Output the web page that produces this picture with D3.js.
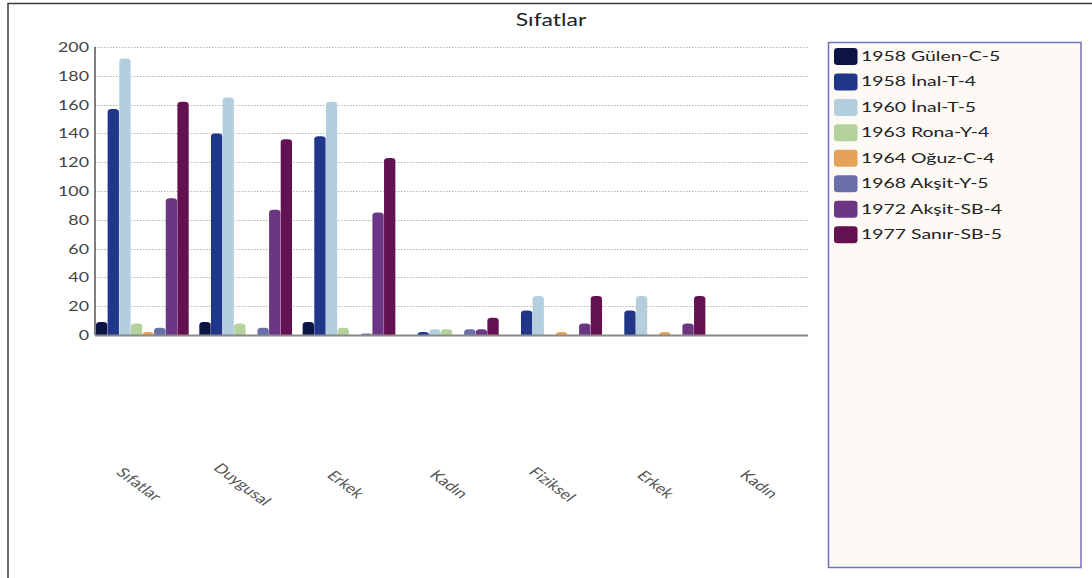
<!DOCTYPE html>
<html>
<head>
<meta charset="utf-8">
<script src="https://cdn.jsdelivr.net/npm/d3@7"></script>
<style>
  html, body { margin: 0; padding: 0; background: #fff; }
  svg { display: block; font-family: Lato, "Open Sans", sans-serif; }
</style>
</head>
<body>
<svg id="chart" width="1092" height="578"></svg>
<script>
// Categories along the x axis
const categories = ["Sıfatlar", "Duygusal", "Erkek", "Kadın", "Fiziksel", "Erkek", "Kadın"];

// Series (one per source text)
const seriesNames = [
  "1958 Gülen-C-5", "1958 İnal-T-4", "1960 İnal-T-5", "1963 Rona-Y-4",
  "1964 Oğuz-C-4", "1968 Akşit-Y-5", "1972 Akşit-SB-4", "1977 Sanır-SB-5"
];
const seriesColors = [
  "#0c1445", "#1f3689", "#b3cfde", "#b4d29b",
  "#e4a25a", "#6a6fa9", "#6d3684", "#631150"
];

// Counts per category, one array per series
const gulenC5   = [9, 9, 9, 0, 0, 0, 0];
const inalT4    = [157, 140, 138, 2, 17, 17, 0];
const inalT5    = [192, 165, 162, 4, 27, 27, 0];
const ronaY4    = [8, 8, 5, 4, 0, 0, 0];
const oguzC4    = [2, 0, 0, 0, 2, 2, 0];
const aksitY5   = [5, 5, 1, 4, 0, 0, 0];
const aksitSB4  = [95, 87, 85, 4, 8, 8, 0];
const sanirSB5  = [162, 136, 123, 12, 27, 27, 0];
const seriesValues = [gulenC5, inalT4, inalT5, ronaY4, oguzC4, aksitY5, aksitSB4, sanirSB5];

// Y axis tick values
const yTicks = [0, 20, 40, 60, 80, 100, 120, 140, 160, 180, 200];

const chartTitle = "Sıfatlar";

// Text in this chart is drawn horizontally widened
const SX = 1.35;

const svg = d3.select("#chart");

const plot = { left: 95, right: 809, top: 47, bottom: 335 };

const x0 = d3.scaleBand()
  .domain(d3.range(categories.length))
  .range([plot.left + 1, plot.right])
  .paddingInner(0.1)
  .paddingOuter(0);

const x1 = d3.scaleBand()
  .domain(d3.range(seriesNames.length))
  .range([0, x0.bandwidth()])
  .padding(0);

const y = d3.scaleLinear().domain([0, 200]).range([plot.bottom, plot.top]);

// Outer frame (top and left edges)
svg.append("path")
  .attr("d", `M8,578 L8,3.5 L1092,3.5`)
  .attr("fill", "none")
  .attr("stroke", "#3a3a3a")
  .attr("stroke-width", 1.5);

// Title
svg.append("text")
  .attr("transform", `translate(551,26) scale(${SX},1)`)
  .attr("text-anchor", "middle")
  .attr("font-size", 17)
  .attr("fill", "#222")
  .text(chartTitle);

// Gridlines
svg.append("g")
  .selectAll("line")
  .data(yTicks.filter(d => d > 0))
  .join("line")
  .attr("x1", plot.left)
  .attr("x2", plot.right)
  .attr("y1", d => Math.round(y(d)) + 0.5)
  .attr("y2", d => Math.round(y(d)) + 0.5)
  .attr("stroke", "#b5b5b5")
  .attr("stroke-width", 1)
  .attr("stroke-dasharray", "1.5,1.5");

// Y tick labels
svg.append("g")
  .selectAll("text")
  .data(yTicks)
  .join("text")
  .attr("transform", d => `translate(89,${y(d)}) scale(${SX},1)`)
  .attr("text-anchor", "end")
  .attr("dominant-baseline", "central")
  .attr("font-size", 13.2)
  .attr("fill", "#444")
  .text(d => d);

// Bars with rounded tops
function barPath(x, w, top, bottom) {
  const h = bottom - top;
  if (h <= 0) return "";
  const rx = Math.min(4, w / 2);
  const ry = Math.min(3, h);
  return `M${x},${bottom} L${x},${top + ry} A${rx},${ry} 0 0 1 ${x + rx},${top}` +
         ` L${x + w - rx},${top} A${rx},${ry} 0 0 1 ${x + w},${top + ry} L${x + w},${bottom} Z`;
}

const groups = svg.append("g")
  .selectAll("g")
  .data(categories.map((c, i) => i))
  .join("g")
  .attr("transform", i => `translate(${x0(i)},0)`);

groups.selectAll("path")
  .data(ci => seriesValues.map((vals, si) => ({ si, v: vals[ci] })))
  .join("path")
  .attr("d", d => barPath(x1(d.si), x1.bandwidth() - 0.3, y(d.v), y(0)))
  .attr("fill", d => seriesColors[d.si]);

// Y axis line
svg.append("line")
  .attr("x1", plot.left).attr("x2", plot.left)
  .attr("y1", plot.top).attr("y2", plot.bottom)
  .attr("stroke", "#555")
  .attr("stroke-width", 1.5);

// X axis line
svg.append("line")
  .attr("x1", plot.left).attr("x2", plot.right - 1)
  .attr("y1", plot.bottom + 0.5).attr("y2", plot.bottom + 0.5)
  .attr("stroke", "#8a8a8a")
  .attr("stroke-width", 2);

// X category labels, rotated
svg.append("g")
  .selectAll("text")
  .data(categories.map((c, i) => ({ c, i })))
  .join("text")
  .attr("transform", d => `translate(${x0(d.i) + x0.bandwidth() / 2 - 3},484) scale(${SX},1) rotate(45)`)
  .attr("text-anchor", "middle")
  .attr("dominant-baseline", "central")
  .attr("font-size", 13.2)
  .attr("fill", "#555")
  .text(d => d.c);

// Legend
const legend = svg.append("g");
legend.append("rect")
  .attr("x", 828.5).attr("y", 42.5)
  .attr("width", 252.5).attr("height", 525)
  .attr("fill", "#fdf9f4")
  .attr("stroke", "#7472c0")
  .attr("stroke-width", 1.5);

const rows = legend.selectAll("g.row")
  .data(seriesNames.map((n, i) => ({ n, i })))
  .join("g")
  .attr("class", "row")
  .attr("transform", d => `translate(834,${48 + d.i * 25.45})`);

rows.append("rect")
  .attr("width", 23.5).attr("height", 17)
  .attr("rx", 3.5).attr("ry", 3)
  .attr("fill", d => seriesColors[d.i]);

rows.append("text")
  .attr("transform", `translate(27,13) scale(1.45,1)`)
  .attr("font-size", 13.4)
  .attr("fill", "#222")
  .text(d => d.n);
</script>
</body>
</html>
